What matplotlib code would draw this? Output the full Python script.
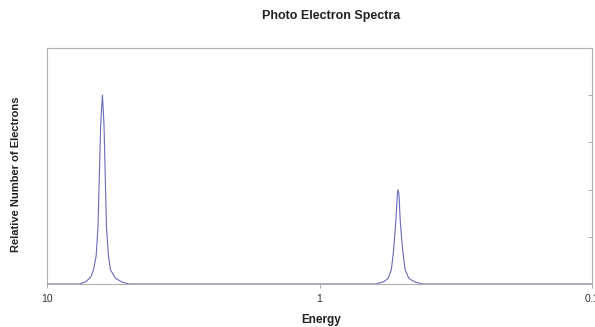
import numpy as np
import matplotlib.pyplot as plt

# ── Datos ──────────────────────────────────────────────────────────────────────
energy = [10.0, 8.5, 7.6, 7.2, 6.9, 6.75, 6.6, 6.5, 6.42, 6.35, 6.26, 6.18, 6.12,
          6.05, 5.95, 5.85, 5.6, 5.3, 5.0, 2.0, 0.62, 0.58, 0.56, 0.545, 0.535,
          0.525, 0.518, 0.515, 0.511, 0.505, 0.495, 0.485, 0.47, 0.45, 0.42,
          0.2, 0.1]
electrons = [0.0, 0.0, 0.0, 0.05, 0.15, 0.3, 0.6, 1.2, 2.4, 3.4, 4.0, 3.4, 2.4,
             1.2, 0.6, 0.3, 0.12, 0.04, 0.0, 0.0, 0.0, 0.05, 0.12, 0.3, 0.7,
             1.3, 1.9, 2.0, 1.9, 1.3, 0.7, 0.3, 0.12, 0.05, 0.0,
             0.0, 0.0]
x_ticks = [10, 1, 0.1]
x_tick_labels = ["10", "1", "0.1"]

plt.rcParams["font.family"] = ["Liberation Sans", "DejaVu Sans"]

fig = plt.figure(figsize=(5.95, 3.27), dpi=100)
ax = fig.add_axes([47 / 595, 1 - 284 / 327, (592 - 47) / 595, (284 - 48) / 327])

ax.plot(energy, electrons, color="#5050b0", linewidth=0.8, alpha=0.85, zorder=3)

ax.set_xscale("log")
ax.set_xlim(10, 0.1)
ax.set_ylim(0, 5)

ax.set_xticks(x_ticks)
ax.set_xticklabels(x_tick_labels)
ax.xaxis.set_minor_locator(plt.NullLocator())
ax.tick_params(axis="x", labelsize=7.5, colors="#a0a0a0", labelcolor="#333333",
               length=3, width=0.6, pad=4)

ax.yaxis.tick_right()
ax.set_yticks([1, 2, 3, 4])
ax.set_yticklabels([])
ax.tick_params(axis="y", direction="in", length=3, width=0.6, colors="#a0a0a0")

for s in ax.spines.values():
    s.set_color("#b0b0b0")
    s.set_linewidth(0.8)

fig.text(331 / 595, 1 - 16 / 327, "Photo Electron Spectra", ha="center",
         va="center", fontsize=9, fontweight="bold", color="#222222")
fig.text(321 / 595, 1 - 320 / 327, "Energy", ha="center", va="center",
         fontsize=8.5, fontweight="bold", color="#222222")
fig.text(16 / 595, 1 - 174 / 327, "Relative Number of Electrons", ha="center",
         va="center", rotation=90, fontsize=8, fontweight="bold",
         color="#222222")

fig.savefig("out.png", dpi=100)
